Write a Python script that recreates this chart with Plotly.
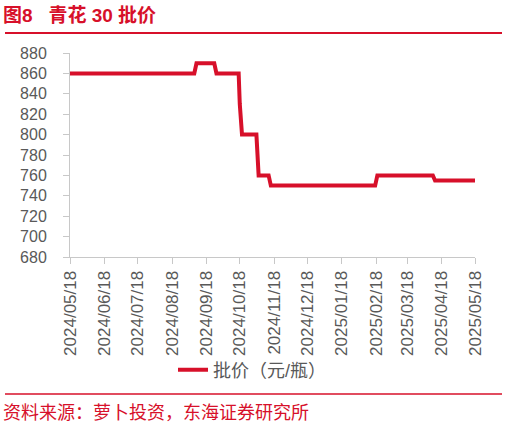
import plotly.graph_objects as go

# Data: change points of the 批价 step series
dates = ["2024-05-18", "2024-09-07", "2024-09-09", "2024-09-25", "2024-09-27",
         "2024-10-17", "2024-10-18", "2024-10-20", "2024-11-02", "2024-11-04",
         "2024-11-13", "2024-11-15", "2025-02-17", "2025-02-19", "2025-04-10",
         "2025-04-12", "2025-05-19"]
prices = [860, 860, 870, 870, 860, 860, 830, 800, 800, 760, 760, 750, 750,
          760, 760, 755, 755]

tick_dates = ["2024-05-18", "2024-06-18", "2024-07-18", "2024-08-18", "2024-09-18",
              "2024-10-18", "2024-11-18", "2024-12-18", "2025-01-18", "2025-02-18",
              "2025-03-18", "2025-04-18", "2025-05-18"]
tick_labels = [d.replace("-", "/") for d in tick_dates]
y_min, y_max, y_step = 680, 880, 20

RED = "#D7102A"
GRAY_TXT = "#595959"
AXIS = "#C8C8C8"
FONT = "Liberation Sans, Noto Sans CJK SC"

W, H = 507, 428
L, R, T, B = 70, 32, 53, 171
PW, PH = W - L - R, H - T - B


def px(x):
    return (x - L) / PW


def py(y):
    return (H - B - y) / PH


fig = go.Figure()
fig.add_trace(go.Scatter(
    x=dates, y=prices, mode="lines", name="批价（元/瓶）",
    line=dict(color=RED, width=4),
))

fig.update_layout(
    width=W, height=H,
    margin=dict(l=L, r=R, t=T, b=B, autoexpand=False),
    paper_bgcolor="white", plot_bgcolor="white",
    font=dict(family=FONT, size=16, color=GRAY_TXT),
    showlegend=True,
    legend=dict(orientation="h", x=px(173), y=py(370), xanchor="left", yanchor="middle",
                font=dict(size=18, color=GRAY_TXT), bgcolor="rgba(0,0,0,0)"),
    xaxis=dict(
        type="date", range=["2024-05-18", "2025-05-18"],
        tickmode="array", tickvals=tick_dates, ticktext=tick_labels,
        tickangle=-90, tickfont=dict(size=17, color=GRAY_TXT),
        showgrid=False, zeroline=False,
        showline=True, linecolor=AXIS, linewidth=1,
        ticks="outside", ticklen=6, tickcolor=AXIS,
    ),
    yaxis=dict(
        range=[y_min, y_max], tickmode="linear", tick0=y_min, dtick=y_step,
        tickfont=dict(size=16, color=GRAY_TXT),
        showgrid=False, zeroline=False,
        showline=True, linecolor=AXIS, linewidth=1,
        ticks="outside", ticklen=6, tickcolor=AXIS,
        ticklabelposition="outside", ticklabelstandoff=13,
    ),
    shapes=[
        dict(type="line", xref="paper", yref="paper", x0=px(5), x1=px(502),
             y0=py(33), y1=py(33), line=dict(color=RED, width=2)),
        dict(type="line", xref="paper", yref="paper", x0=px(5), x1=px(502),
             y0=py(394), y1=py(394), line=dict(color=RED, width=1.5)),
    ],
    annotations=[
        dict(text="<b>图8\u00a0\u00a0\u00a0青花 30 批价</b>", xref="paper", yref="paper",
             x=px(1), y=py(15), xanchor="left", yanchor="middle", showarrow=False,
             font=dict(size=19, color=RED, family=FONT)),
        dict(text="资料来源：萝卜投资，东海证券研究所", xref="paper", yref="paper",
             x=px(1), y=py(413), xanchor="left", yanchor="middle", showarrow=False,
             font=dict(size=18, color=RED, family=FONT)),
    ],
)

fig.write_html("out.html", config={"displayModeBar": False},
               post_script="document.body.style.margin='0px';")
